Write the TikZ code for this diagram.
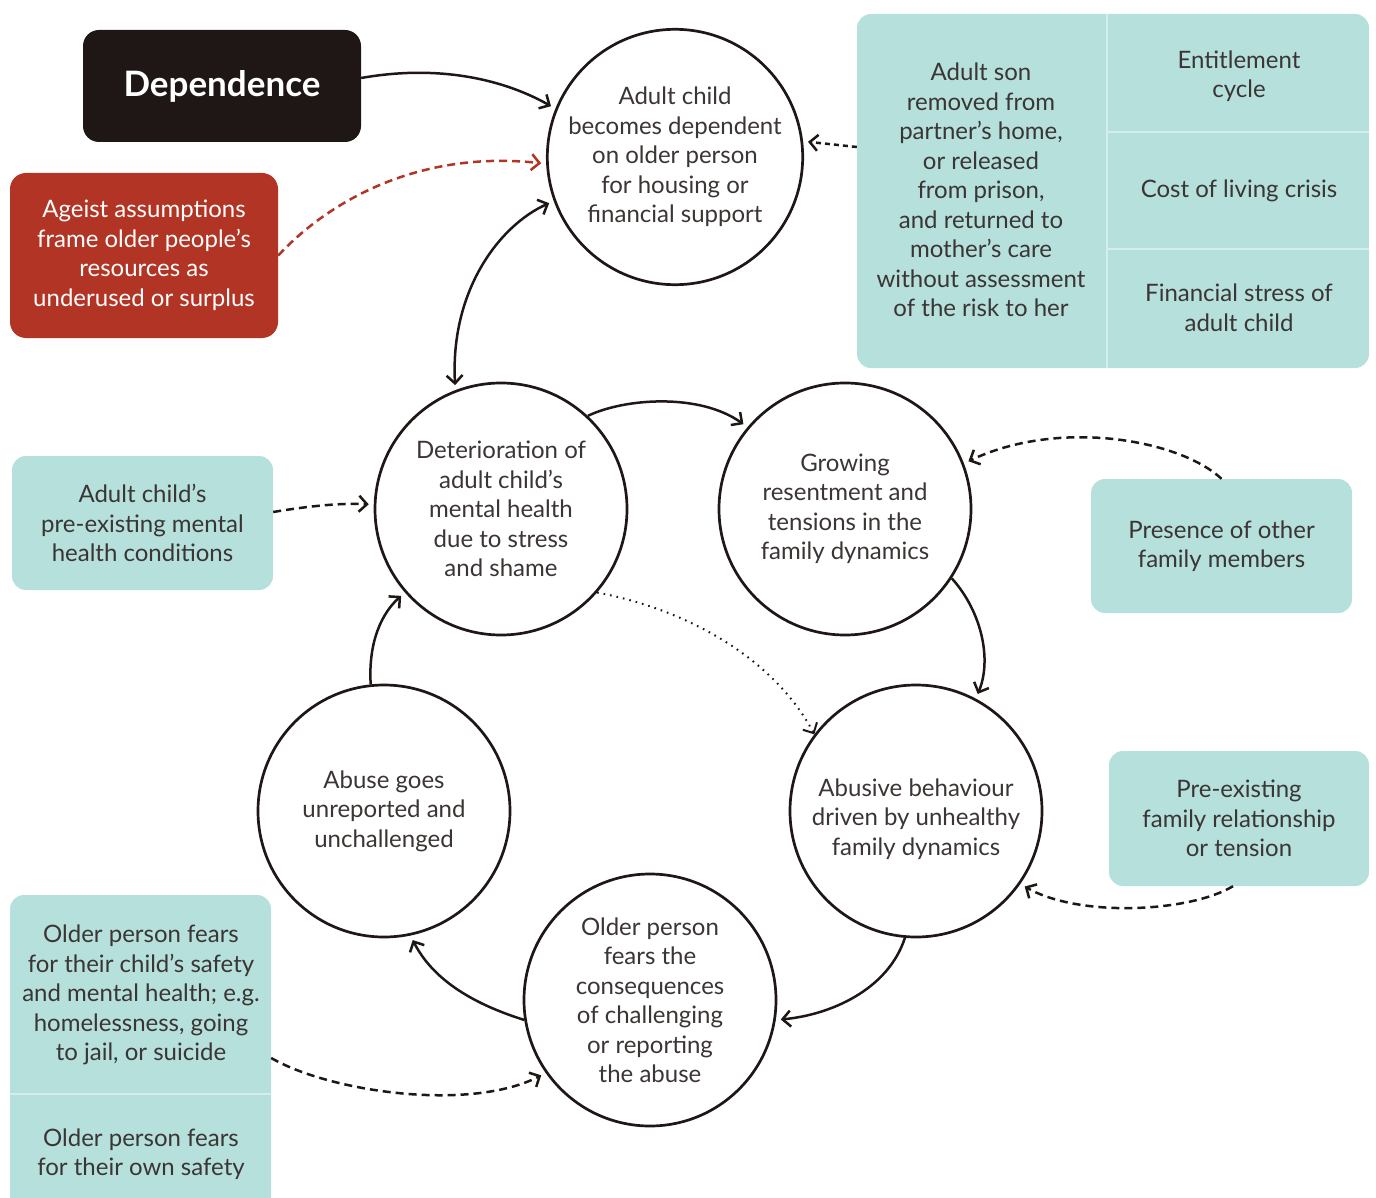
\documentclass[tikz,border=0pt]{standalone}
\usepackage{fontspec}
\setmainfont{Lato}
\usetikzlibrary{arrows.meta,calc}
\definecolor{boxteal}{HTML}{B5E0DC}
\definecolor{boxred}{HTML}{B23424}
\definecolor{ink}{HTML}{1F1716}
\definecolor{txt}{HTML}{3B3534}
\definecolor{rule}{HTML}{D4EEEB}
\newcommand\bodyfont{\fontsize{24}{29.5}\selectfont}
\begin{document}
\begin{tikzpicture}[x=1pt,y=-1pt,
  circ/.style={circle, draw=ink, line width=2.7pt, fill=white, minimum size=252pt,
    inner sep=0pt, align=center, text=txt, font=\bodyfont},
  tealbox/.style={rectangle, rounded corners=14pt, fill=boxteal, align=center,
    text=txt, font=\bodyfont, inner sep=0pt},
  plain/.style={align=center, text=txt, font=\bodyfont, inner sep=0pt},
  divider/.style={draw=rule, line width=2pt},
  link/.style={draw=ink, line width=2.5pt, -{Straight Barb[length=8pt,width=16pt]}, shorten >=5pt},
  dashlink/.style={link, dash pattern=on 8pt off 5pt},
  dotlink/.style={link, line width=2pt, dash pattern=on 1.6pt off 5pt, shorten >=0pt},
]
\useasboundingbox (0,0) rectangle (1376,1198);

% header boxes
\node[rectangle, rounded corners=16pt, fill=ink, minimum width=278pt, minimum height=112pt,
  text=white, font=\fontsize{35}{40}\selectfont\bfseries] (dep) at (222,86) {Dependence};
\node[rectangle, rounded corners=16pt, fill=boxred, minimum width=268pt, minimum height=165pt,
  align=center, text=white, font=\bodyfont, inner sep=0pt] (red) at (144,255.5)
  {Ageist assumptions\\frame older people’s\\resources as\\underused or surplus};

% contributing factors, top right
\node[tealbox, minimum width=512pt, minimum height=354pt] (tr) at (1113,191) {};
\draw[divider] (1107,14) -- (1107,368);
\draw[divider] (1107,132) -- (1369,132);
\draw[divider] (1107,249) -- (1369,249);
\node[plain] (trA) at (981,190) {Adult son\\removed from\\partner’s home,\\or released\\from prison,\\and returned to\\mother’s care\\without assessment\\of the risk to her};
\node[plain] (trB) at (1239,76) {Entitlement\\cycle};
\node[plain] (trC) at (1239,191) {Cost of living crisis};
\node[plain] (trD) at (1239,308) {Financial stress of\\adult child};

% other contributing factors
\node[tealbox, minimum width=261pt, minimum height=134pt] (tl) at (142.5,523)
  {Adult child’s\\pre-existing mental\\health conditions};
\node[tealbox, minimum width=261pt, minimum height=134pt] (pres) at (1221.5,546)
  {Presence of other\\family members};
\node[tealbox, minimum width=260pt, minimum height=135pt] (fam) at (1239,818.5)
  {Pre-existing\\family relationship\\or tension};
\begin{scope}
  \clip (0,0) rectangle (1376,1198);
  \node[tealbox, minimum width=261pt, minimum height=320pt] (bl) at (140.5,1055) {};
\end{scope}
\draw[divider] (10,1094) -- (271,1094);
\node[plain] (blA) at (141,995) {Older person fears\\for their child’s safety\\and mental health; e.g.\\homelessness, going\\to jail, or suicide};
\node[plain] (blB) at (141,1154) {Older person fears\\for their own safety};

% the cycle
\node[circ] (A) at (675,157) {Adult child\\becomes dependent\\on older person\\for housing or\\financial support};
\node[circ] (B) at (501,509) {Deterioration of\\adult child’s\\mental health\\due to stress\\and shame};
\node[circ] (C) at (845,509) {Growing\\resentment and\\tensions in the\\family dynamics};
\node[circ] (D) at (916,811) {};
\node[plain] (Dtxt) at (916,819) {Abusive behaviour\\driven by unhealthy\\family dynamics};
\node[circ] (E) at (650,1000) {Older person\\fears the\\consequences\\of challenging\\or reporting\\the abuse};
\node[circ] (F) at (384,811) {Abuse goes\\unreported and\\unchallenged};

% connectors
\draw[link] ([yshift=8pt]dep.east) .. controls (440,64) and (505,80) .. (A.158);
\draw[dashlink, draw=boxred] (red.east) .. controls (330,200) and (420,150) .. (A.183);
\draw[dashlink, dash pattern=on 5pt off 4pt] ([yshift=44pt]tr.west) -- (A.7);
\draw[link, {Straight Barb[length=8pt,width=16pt]}-{Straight Barb[length=8pt,width=16pt]}, shorten <=5pt]
  (B.111) .. controls (450,290) and (500,225) .. (A.200);
\draw[link] (B.47) .. controls (625,398) and (700,393) .. (C.140);
\draw[link] (C.-33) .. controls (982,612) and (992,660) .. (D.62);
\draw[link] (D.-95) .. controls (888,990) and (830,1015) .. (E.-9.5);
\draw[link] (E.189) .. controls (470,1003) and (432,978) .. (F.-78);
\draw[link] (F.96) .. controls (368,640) and (383,612) .. (B.221);
\draw[dotlink] (B.-41) .. controls (690,610) and (775,660) .. (D.143);
\draw[dashlink] ([yshift=11pt]tl.east) .. controls (315,505) and (345,503) .. (B.178);
\draw[dashlink] (pres.north) .. controls (1180,440) and (1060,418) .. (C.21);
\draw[dashlink] ([xshift=-6pt]fam.south) .. controls (1190,912) and (1080,918) .. (D.-35);
\draw[dashlink] ([yshift=-3pt]bl.east) .. controls (330,1092) and (470,1112) .. (E.215);
\end{tikzpicture}
\end{document}
